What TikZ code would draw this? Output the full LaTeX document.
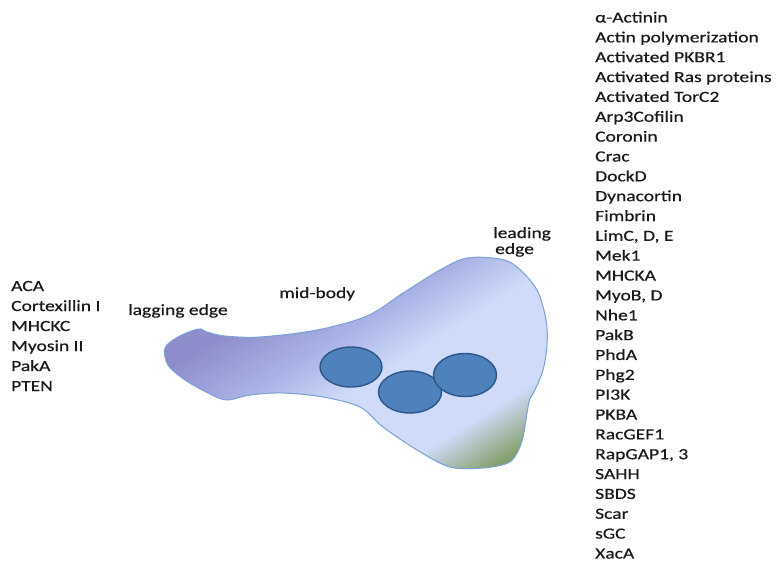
\documentclass[tikz,border=0pt]{standalone}
\usepackage{fontspec}
\setmainfont{Carlito}[FakeStretch=1.26,FakeBold=0.6]
\usetikzlibrary{shapes.geometric}
\definecolor{cellPurple}{HTML}{8E8DCB}
\definecolor{cellMid}{HTML}{ABB4E6}
\definecolor{cellLight}{HTML}{CFDBF9}
\definecolor{cellGreen}{HTML}{84A06C}
\definecolor{cellEdge}{HTML}{7BA2D6}
\definecolor{nucFill}{HTML}{4F81BD}
\definecolor{nucEdge}{HTML}{2F5688}
\definecolor{txt}{HTML}{1A1A1A}
% colour ramp across the cell body, rear (left) to front corner (right)
\pgfdeclarehorizontalshading{cellgrad}{100bp}{%
  color(0bp)=(cellPurple); color(33bp)=(cellPurple); color(45bp)=(cellMid);
  color(54bp)=(cellLight); color(70bp)=(cellLight); color(79bp)=(cellGreen);
  color(100bp)=(cellGreen)}
\begin{document}
\begin{tikzpicture}[x=1pt,y=-1pt,
  lbl/.style={inner sep=0pt, anchor=base west, text=txt,
    font=\fontsize{15.5}{19.9}\selectfont},
  nucleus/.style={ellipse, draw=nucEdge, line width=1.4pt, fill=nucFill,
    inner sep=0pt},
  cellbody/.style={draw=cellEdge, line width=1pt, shading=cellgrad,
    shading angle=-58}]
\useasboundingbox (0,0) rectangle (777,562);

% cell outline with shaded body
\path[cellbody] plot[smooth cycle, tension=0.55] coordinates {
  (165,348) (178,337) (198,329) (207,332) (225,336) (260,337) (317,330)
  (367,316) (403,293) (440,270) (467,258) (500,259) (517,267) (537,290)
  (546,320) (547,345) (543,370) (534,392) (529,402) (523,437) (517,453)
  (508,463) (483,468) (450,467) (417,450) (383,427) (360,407) (323,397)
  (283,393) (250,395) (227,400) (210,394) (185,380) (168,365)};

% nuclei
\node[nucleus, minimum width=62pt, minimum height=40pt] (n1) at (351,367) {};
\node[nucleus, minimum width=63pt, minimum height=42pt] (n2) at (410,392) {};
\node[nucleus, minimum width=63pt, minimum height=43pt] (n3) at (465,375) {};

% region labels
\node[lbl] (lag) at (128,315) {lagging edge};
\node[lbl] (mid) at (279,298) {mid-body};
\node[lbl] (lead1) at (493,238) {leading};
\node[lbl] (lead2) at (495,254) {edge};

% rear proteins
\foreach \t [count=\i] in {ACA, Cortexillin I, MHCKC, Myosin II, PakA, PTEN}
  \node[lbl] (rear\i) at (11,{291+(\i-1)*20}) {\t};

% front proteins
\foreach \t [count=\i] in {α-Actinin, Actin polymerization, Activated PKBR1,
  Activated Ras proteins, Activated TorC2, Arp3Cofilin, Coronin, Crac, DockD,
  Dynacortin, Fimbrin, {LimC, D, E}, Mek1, MHCKA, {MyoB, D}, Nhe1, PakB, PhdA,
  Phg2, PI3K, PKBA, RacGEF1, {RapGAP1, 3}, SAHH, SBDS, Scar, sGC, XacA}
  \node[lbl] (front\i) at (595,{22.5+(\i-1)*19.85}) {\t};
\end{tikzpicture}
\end{document}
